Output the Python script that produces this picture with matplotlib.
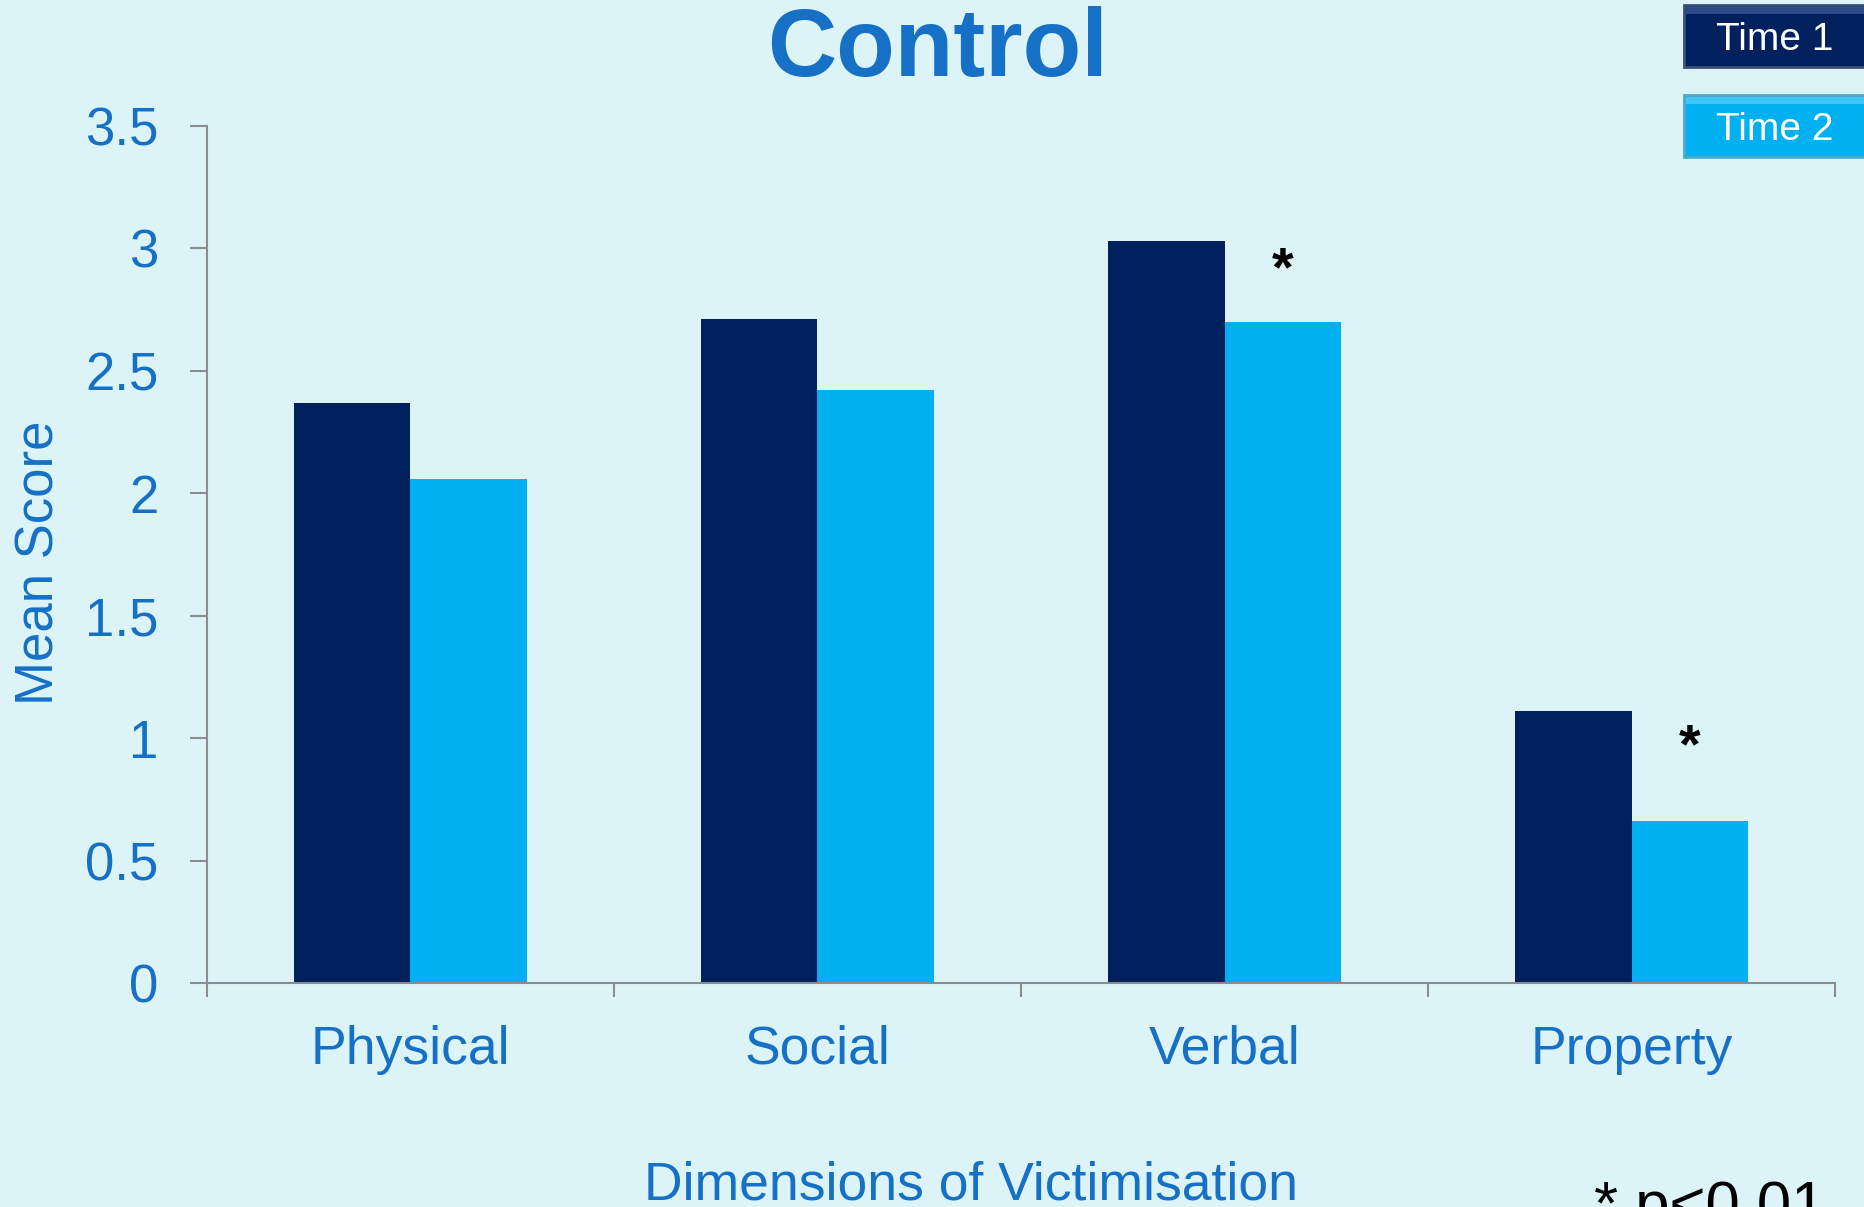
import matplotlib.pyplot as plt
import numpy as np
from matplotlib.patches import FancyBboxPatch

plt.rcParams['font.family'] = ['Liberation Sans', 'DejaVu Sans']

categories = ["Physical", "Social", "Verbal", "Property"]
time1 = [2.37, 2.71, 3.03, 1.11]
time2 = [2.06, 2.42, 2.70, 0.66]
significant = [False, False, True, True]

BG = "#DCF4F8"
TXT = "#1570C6"
NAVY = "#00205E"
CYAN = "#00B0F0"
GREY = "#8C8C8C"

fig = plt.figure(figsize=(18.64, 12.07), dpi=100)
fig.patch.set_facecolor(BG)
ax = fig.add_axes([0.111, 0.1856, 0.8735, 0.7100])
ax.set_facecolor(BG)

x = np.arange(len(categories))
w = 0.286
ax.bar(x - w / 2, time1, width=w, color=NAVY, zorder=2)
ax.bar(x + w / 2, time2, width=w, color=CYAN, zorder=2)

# significance stars above the Time 2 bars
star_gap = [0, 0, 0.15, 0.24]
for xi, v, s, g in zip(x, time2, significant, star_gap):
    if s:
        ax.text(xi + w / 2, v + g, "*", ha="center", va="baseline",
                fontsize=40, fontweight="bold", color="black")

ax.set_xlim(-0.5, 3.5)
ax.set_ylim(0, 3.5)
yt = np.arange(0, 3.51, 0.5)
ax.set_yticks(yt)
ax.set_yticklabels(["%g" % t for t in yt])
ax.set_xticks(x)
ax.set_xticklabels(categories)
ax.set_xticks(np.arange(-0.5, 3.6, 1), minor=True)

for s in ["top", "right"]:
    ax.spines[s].set_visible(False)
for s in ["left", "bottom"]:
    ax.spines[s].set_color(GREY)
    ax.spines[s].set_linewidth(1.5)

ax.tick_params(axis="y", direction="out", length=12, width=1.5, color=GREY,
               labelsize=38, labelcolor=TXT, pad=23)
ax.tick_params(axis="x", which="major", length=0, labelsize=38.5, labelcolor=TXT, pad=30)
ax.tick_params(axis="x", which="minor", direction="out", length=10, width=1.5, color=GREY)

fig.text(0.021, 0.534, "Mean Score", rotation=90, ha="center", va="center",
         fontsize=38, color=TXT)
fig.text(0.503, 0.958, "Control", ha="center", va="center",
         fontsize=69, fontweight="bold", color=TXT)
fig.text(0.521, -0.003, "Dimensions of Victimisation", ha="center", va="bottom",
         fontsize=38.5, color=TXT)
fig.text(0.855, -0.025, "* p<0.01", ha="left", va="bottom",
         fontsize=44.5, color="black")

# legend buttons
for (y0, label, col, edge, hi) in [(1207 - 67, "Time 1", NAVY, "#3C4E78", "#2E4A88"),
                                  (1207 - 157, "Time 2", CYAN, "#4FA9C9", "#3FC8F6")]:
    box = FancyBboxPatch((1684 / 1864, y0 / 1207), 200 / 1864, 62 / 1207,
                         boxstyle="square,pad=0", transform=fig.transFigure,
                         facecolor=col, edgecolor=edge, linewidth=2, zorder=5)
    fig.patches.append(box)
    top = FancyBboxPatch((1686 / 1864, (y0 + 53) / 1207), 178 / 1864, 7 / 1207,
                         boxstyle="square,pad=0", transform=fig.transFigure,
                         facecolor=hi, edgecolor="none", zorder=5)
    fig.patches.append(top)
    fig.text(1775 / 1864, (y0 + 27) / 1207, label, ha="center", va="center",
             fontsize=28, color="white", zorder=6)

fig.savefig("out.png", dpi=100, facecolor=BG)
